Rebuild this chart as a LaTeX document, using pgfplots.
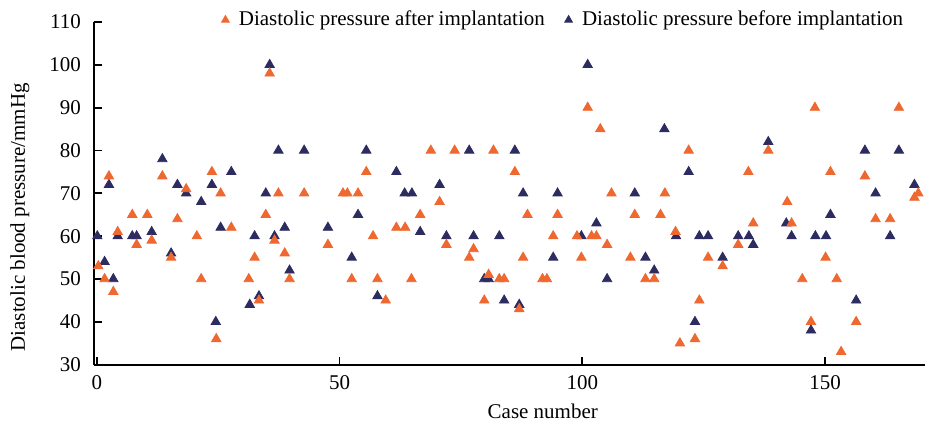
\documentclass[border=0pt]{standalone}
\usepackage{pgfplots}
\pgfplotsset{compat=1.18}
\usepackage{fontspec}
\setmainfont{Liberation Serif}
\definecolor{aftc}{RGB}{238,104,48}
\definecolor{befc}{RGB}{45,44,96}
\begin{document}
\begin{tikzpicture}
\begin{axis}[
  scale only axis, width=416pt, height=171.5pt,
  xmin=-0.6, xmax=170.6, ymin=30, ymax=110,
  axis x line*=bottom, axis y line*=left,
  axis line style={line width=0.9pt, black},
  xtick={0,50,100,150}, ytick={30,40,...,110},
  tick align=inside, major tick length=3.8pt,
  tick style={line width=0.9pt, black},
  minor tick num=0,
  font=\fontsize{10.5}{12}\selectfont,
  /pgf/number format/assume math mode=true,
  yticklabel style={xshift=-3pt},
  xticklabel style={yshift=-2pt},
  xlabel={Case number},
  ylabel={Diastolic blood pressure/mmHg},
  xlabel style={at={(axis description cs:0.54,-0.137)}, anchor=center},
  ylabel style={at={(axis description cs:-0.089,0.43)}, anchor=center, rotate=0},
  legend style={draw=none, fill=none, legend columns=2,
    at={(axis description cs:0.566,1.006)}, anchor=center,
    /tikz/every even column/.append style={column sep=8pt},
    font=\fontsize{10.5}{12}\selectfont},
  legend image code/.code={\draw[#1, mark size=2.2pt] plot coordinates {(0cm,0cm)}; \path (0.16cm,0cm);},
  reverse legend,
  clip=false,
]
\addplot[only marks, mark=triangle*, mark size=2.7pt, befc, mark options={draw=befc, fill=befc}] coordinates {
(0.1,60) (1.6,54) (2.5,72) (3.4,50) (4.3,60) (7.3,60) (8.2,60) (11.3,61) (13.5,78) (15.3,56)
(16.6,72) (18.4,70) (21.5,68) (23.7,72) (24.5,40) (25.5,62) (27.7,75) (31.5,44) (32.5,60) (33.4,46)
(34.8,70) (35.6,100) (36.6,60) (37.4,80) (38.7,62) (39.7,52) (42.7,80) (47.6,62) (52.5,55) (53.8,65)
(55.5,80) (57.8,46) (61.7,75) (63.4,70) (64.9,70) (66.6,61) (70.6,72) (72.0,60) (76.7,80) (77.6,60)
(79.8,50) (80.7,50) (82.9,60) (83.9,45) (86.1,80) (87.0,44) (87.8,70) (94.0,55) (94.9,70) (99.8,60)
(101.1,100) (102.9,63) (105.1,50) (110.8,70) (113.0,55) (114.8,52) (116.9,85) (119.3,60) (121.9,75) (123.2,40)
(124.1,60) (125.9,60) (128.9,55) (132.1,60) (134.3,60) (135.2,58) (138.3,82) (142.0,63) (143.1,60) (147.1,38)
(148.0,60) (150.2,60) (151.1,65) (156.4,45) (158.2,80) (160.4,70) (163.4,60) (165.2,80) (168.4,72)
};
\addlegendentry{Diastolic pressure before implantation}
\addplot[only marks, mark=triangle*, mark size=2.7pt, aftc, mark options={draw=aftc, fill=aftc}] coordinates {
(0.3,53) (1.6,50) (2.5,74) (3.4,47) (4.3,61) (7.3,65) (8.2,58) (10.4,65) (11.3,59) (13.5,74)
(15.3,55) (16.6,64) (18.4,71) (20.6,60) (21.5,50) (23.7,75) (24.6,36) (25.5,70) (27.7,62) (31.3,50)
(32.5,55) (33.4,45) (34.8,65) (35.6,98) (36.6,59) (37.4,70) (38.7,56) (39.7,50) (42.7,70) (47.6,58)
(50.7,70) (51.6,70) (52.5,50) (53.8,70) (55.5,75) (56.9,60) (57.8,50) (59.5,45) (61.7,62) (63.5,62)
(64.8,50) (66.6,65) (68.8,80) (70.6,68) (72.0,58) (73.7,80) (76.7,55) (77.6,57) (79.8,45) (80.7,51)
(81.7,80) (82.9,50) (83.9,50) (86.1,75) (87.0,43) (87.8,55) (88.7,65) (91.8,50) (92.7,50) (94.0,60)
(94.9,65) (98.9,60) (99.8,55) (101.1,90) (101.9,60) (102.9,60) (103.7,85) (105.1,58) (106.0,70) (109.9,55)
(110.8,65) (113.0,50) (114.8,50) (116.1,65) (117.0,70) (119.2,61) (120.1,35) (121.9,80) (123.2,36) (124.1,45)
(125.9,55) (128.9,53) (132.1,58) (134.2,75) (135.2,63) (138.3,80) (142.2,68) (143.1,63) (145.3,50) (147.1,40)
(147.9,90) (150.1,55) (151.1,75) (152.4,50) (153.3,33) (156.4,40) (158.2,74) (160.4,64) (163.4,64) (165.2,90)
(168.4,69) (169.2,70)
};
\addlegendentry{Diastolic pressure after implantation}
\end{axis}
\path ([shift={(-47pt,-29.5pt)}]current axis.south west) rectangle ([shift={(0pt,11pt)}]current axis.north east);
\end{tikzpicture}
\end{document}
